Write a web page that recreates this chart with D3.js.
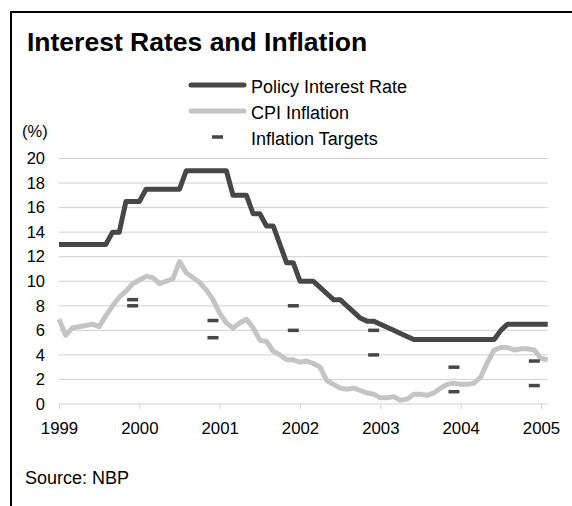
<!DOCTYPE html>
<html>
<head>
<meta charset="utf-8">
<script src="https://cdn.jsdelivr.net/npm/d3@7"></script>
<style>
  html, body { margin: 0; padding: 0; background: #fff; }
  svg { display: block; }
  text { font-family: "Liberation Sans", Arial, sans-serif; fill: #000; }
</style>
</head>
<body>
<svg id="chart" width="572" height="506"></svg>
<script>
// ---- Data (monthly, Jan 1999 .. Feb 2005) ----
const yearLabels = ["1999", "2000", "2001", "2002", "2003", "2004", "2005"];
const yTicks = [0, 2, 4, 6, 8, 10, 12, 14, 16, 18, 20];

const policyRate = [
  13, 13, 13, 13, 13, 13, 13, 13, 14, 14, 16.5, 16.5,
  16.5, 17.5, 17.5, 17.5, 17.5, 17.5, 17.5, 19, 19, 19, 19, 19,
  19, 19, 17, 17, 17, 15.5, 15.5, 14.5, 14.5, 13, 11.5, 11.5,
  10, 10, 10, 9.5, 9, 8.5, 8.5, 8, 7.5, 7, 6.75, 6.75,
  6.5, 6.25, 6, 5.75, 5.5, 5.25, 5.25, 5.25, 5.25, 5.25, 5.25, 5.25,
  5.25, 5.25, 5.25, 5.25, 5.25, 5.25, 6, 6.5, 6.5, 6.5, 6.5, 6.5,
  6.5, 6.5
];

const cpiInflation = [
  6.9, 5.6, 6.2, 6.3, 6.4, 6.5, 6.3, 7.2, 8.0, 8.7, 9.2, 9.8,
  10.1, 10.4, 10.3, 9.8, 10.0, 10.2, 11.6, 10.7, 10.3, 9.9, 9.3, 8.5,
  7.4, 6.6, 6.2, 6.6, 6.9, 6.2, 5.2, 5.1, 4.3, 4.0, 3.6, 3.6,
  3.4, 3.5, 3.3, 3.0, 1.9, 1.6, 1.3, 1.2, 1.3, 1.1, 0.9, 0.8,
  0.5, 0.5, 0.6, 0.3, 0.4, 0.8, 0.8, 0.7, 0.9, 1.3, 1.6, 1.7,
  1.6, 1.6, 1.7, 2.2, 3.4, 4.4, 4.6, 4.6, 4.4, 4.5, 4.5, 4.4,
  3.7, 3.6
];

const targetMonth = [11, 23, 35, 47, 59, 71];
const targetLow  = [8.0, 5.4, 6, 4, 1, 1.5];
const targetHigh = [8.5, 6.8, 8, 6, 3, 3.5];

const legendLabels = ["Policy Interest Rate", "CPI Inflation", "Inflation Targets"];

// ---- Styles ----
const darkCol = "#474747";
const lightCol = "#c4c4c4";
const gridCol = "#d0d0d0";

const svg = d3.select("#chart");

// frame
svg.append("path")
  .attr("d", "M11,506 L11,12 L572,12")
  .attr("fill", "none").attr("stroke", "#000").attr("stroke-width", 2);

// title
svg.append("text")
  .attr("x", 27).attr("y", 51)
  .style("font-size", "26.5px").style("font-weight", "bold")
  .text("Interest Rates and Inflation");

const x = d3.scaleLinear().domain([0, policyRate.length - 1]).range([59, 547.7]);
const y = d3.scaleLinear().domain([0, 20]).range([404, 158.5]);

// gridlines
svg.append("g").selectAll("line").data(yTicks).join("line")
  .attr("x1", x(0)).attr("x2", x(policyRate.length - 1))
  .attr("y1", d => y(d)).attr("y2", d => y(d))
  .attr("stroke", gridCol).attr("stroke-width", 1);

// y axis labels
const yAxis = d3.axisLeft(y).tickValues(yTicks).tickSize(0).tickPadding(14);
const gy = svg.append("g").attr("transform", `translate(${x(0)},0)`).call(yAxis);
gy.select(".domain").remove();
gy.selectAll("text").style("font-size", "16.5px").attr("fill", "#000")
  .style("font-family", '"Liberation Sans", Arial, sans-serif');

// x axis
const xTickVals = yearLabels.map((d, i) => i * 12);
const xAxis = d3.axisBottom(x).tickValues(xTickVals)
  .tickFormat((d, i) => yearLabels[i]).tickSize(5).tickPadding(13);
const gx = svg.append("g").attr("transform", `translate(0,${y(0)})`).call(xAxis);
gx.select(".domain").remove();
gx.selectAll(".tick line").attr("stroke", gridCol);
gx.selectAll("text").style("font-size", "16.8px").attr("fill", "#000")
  .style("font-family", '"Liberation Sans", Arial, sans-serif');

// (%)
svg.append("text").attr("x", 22).attr("y", 137).style("font-size", "16.5px").text("(%)");

// lines
const line = d3.line().x((d, i) => x(i)).y(d => y(d));
svg.append("path").datum(cpiInflation).attr("d", line)
  .attr("fill", "none").attr("stroke", lightCol).attr("stroke-width", 5)
  .attr("stroke-linejoin", "round");
svg.append("path").datum(policyRate).attr("d", line)
  .attr("fill", "none").attr("stroke", darkCol).attr("stroke-width", 5)
  .attr("stroke-linejoin", "round");

// targets
const targets = [];
targetMonth.forEach((m, i) => {
  targets.push({ m: m, v: targetLow[i] });
  targets.push({ m: m, v: targetHigh[i] });
});
svg.append("g").selectAll("rect").data(targets).join("rect")
  .attr("x", d => x(d.m) - 5.5).attr("y", d => y(d.v) - 1.75)
  .attr("width", 11).attr("height", 3.5).attr("fill", darkCol);

// legend
const lg = svg.append("g");
const rows = [85, 111, 137];
lg.append("line").attr("x1", 191).attr("x2", 244).attr("y1", rows[0]).attr("y2", rows[0])
  .attr("stroke", darkCol).attr("stroke-width", 5).attr("stroke-linecap", "round");
lg.append("line").attr("x1", 191).attr("x2", 244).attr("y1", rows[1]).attr("y2", rows[1])
  .attr("stroke", lightCol).attr("stroke-width", 5).attr("stroke-linecap", "round");
lg.append("rect").attr("x", 212).attr("y", rows[2] - 1.75).attr("width", 11).attr("height", 3.5)
  .attr("fill", darkCol);
legendLabels.forEach((t, i) => {
  lg.append("text").attr("x", 251).attr("y", rows[i] + 7.5).style("font-size", "18px").text(t);
});

// source
svg.append("text").attr("x", 25).attr("y", 484).style("font-size", "18px").text("Source: NBP");
</script>
</body>
</html>
